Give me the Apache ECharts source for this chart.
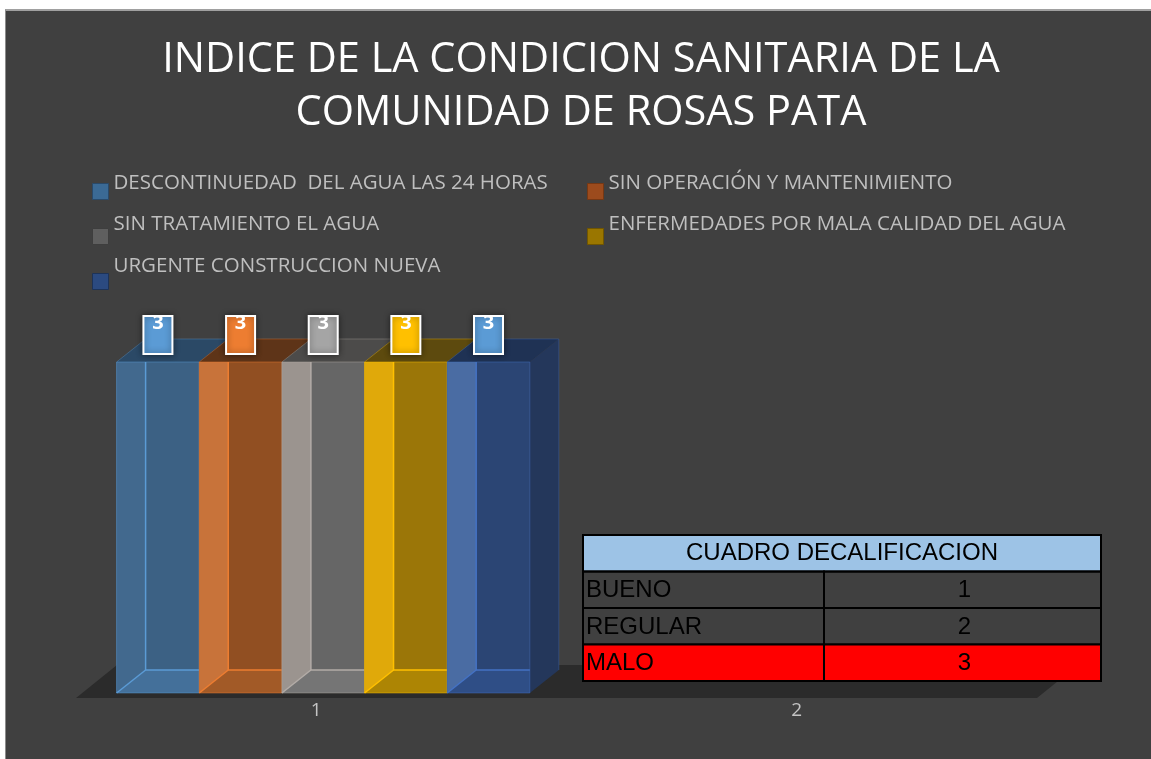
<!DOCTYPE html>
<html>
<head>
<meta charset="utf-8">
<script src="https://cdn.jsdelivr.net/npm/echarts@6/dist/echarts.min.js"></script>
<style>
    html, body { margin: 0; padding: 0; background: #ffffff; }
    /* marco oscuro del gráfico */
    #frame { position: absolute; left: 5px; top: 9px; width: 1146px; height: 750px; box-sizing: border-box;
             background: #404040; border-left: 1px solid #8c8c8c; border-top: 2px solid #a0a0a0; }
    #main { position: absolute; left: 0; top: 0; width: 1151px; height: 759px; }
</style>
</head>
<body>
<div id="frame"></div>
<div id="main"></div>
<script>
// categorías del eje x
const categorias = ['1', '2'];

// nombres de las series (leyenda)
const nombresSeries = [
    'DESCONTINUEDAD  DEL AGUA LAS 24 HORAS',
    'SIN OPERACIÓN Y MANTENIMIENTO',
    'SIN TRATAMIENTO EL AGUA',
    'ENFERMEDADES POR MALA CALIDAD DEL AGUA',
    'URGENTE CONSTRUCCION NUEVA'
];

// valores de cada serie (categoría 1, categoría 2)
const descontinuidad = [3, null];
const sinOperacion = [3, null];
const sinTratamiento = [3, null];
const enfermedades = [3, null];
const urgente = [3, null];

// cuadro de calificación
const tablaTitulo = 'CUADRO DECALIFICACION';
const tablaNiveles = ['BUENO', 'REGULAR', 'MALO'];
const tablaPuntos = [1, 2, 3];

const valoresSeries = [descontinuidad, sinOperacion, sinTratamiento, enfermedades, urgente];

// colores de cada caja 3D
const estilos = [
    { label: '#5b9bd5', edge: '#5b9bd5', front: '#3c6184', strip: '#42698e', bottom: '#44709a', top: '#2b4966', side: '#2a4664', legend: '#3b6a95', legendBorder: '#2a4a6a' },
    { label: '#ed7d31', edge: '#ed7d31', front: '#914f22', strip: '#c8733a', bottom: '#a25a27', top: '#5e3418', side: '#5e3418', legend: '#9c4b1d', legendBorder: '#763814' },
    { label: '#a5a5a5', edge: '#b3aca7', front: '#666666', strip: '#9b948f', bottom: '#757575', top: '#4c4b4a', side: '#4c4c4c', legend: '#5f5f5f', legendBorder: '#3e3e3e' },
    { label: '#ffc000', edge: '#ffc000', front: '#9b7608', strip: '#e0a90a', bottom: '#ad8504', top: '#5d4a0e', side: '#5d4a0e', legend: '#9a7600', legendBorder: '#715600' },
    { label: '#5b9bd5', edge: '#4472c4', front: '#2b4574', strip: '#4a6ca3', bottom: '#2f4e86', top: '#1f3254', side: '#24375b', legend: '#2b4a80', legendBorder: '#1d3358' }
];

// posición de cada leyenda (marker = borde superior del cuadro; sub = desplazamiento del texto hacia arriba)
const leyendas = [
    { left: 92, marker: 182, sub: 16 },
    { left: 587, marker: 182, sub: 16 },
    { left: 92, marker: 227, sub: 25 },
    { left: 587, marker: 227, sub: 25 },
    { left: 92, marker: 272, sub: 31 }
];

const dx = 29, dy = 23; // profundidad de las cajas

// dibuja una caja 3D para la serie k
function cajaRender(k) {
    const c = estilos[k];
    return function (params, api) {
        const cat = api.value(0);
        const base = api.coord([cat, 0]);
        const tope = api.coord([cat, api.value(1)]);
        const band = api.size([1, 0])[0];
        const w = band * 0.172;
        const xL = base[0] - band * 0.4155 + k * w;
        const xR = xL + w;
        const yB = base[1], yT = tope[1];
        const cx = (xL + xR) / 2;
        return {
            type: 'group',
            children: [
                { type: 'polygon', shape: { points: [[xL, yT], [xR, yT], [xR + dx, yT - dy], [xL + dx, yT - dy]] }, style: { fill: c.top } },
                { type: 'polygon', shape: { points: [[xR, yT], [xR + dx, yT - dy], [xR + dx, yB - dy], [xR, yB]] }, style: { fill: c.side } },
                { type: 'rect', shape: { x: xL, y: yT, width: w, height: yB - yT }, style: { fill: c.front } },
                { type: 'rect', shape: { x: xL, y: yT, width: dx, height: yB - yT }, style: { fill: c.strip } },
                { type: 'polygon', shape: { points: [[xL, yB], [xL + dx, yB - dy], [xR, yB - dy], [xR, yB]] }, style: { fill: c.bottom } },
                { type: 'polyline', shape: { points: [[xL + dx, yT], [xL + dx, yB - dy], [xR, yB - dy]] }, style: { stroke: c.edge, lineWidth: 1.5, fill: null } },
                { type: 'line', shape: { x1: xL, y1: yB, x2: xL + dx, y2: yB - dy }, style: { stroke: c.edge, lineWidth: 1.5 } },
                { type: 'polyline', shape: { points: [[xL, yT], [xL + dx, yT - dy], [xR + dx, yT - dy], [xR + dx, yB - dy]] }, style: { stroke: c.edge, opacity: 0.35, lineWidth: 1, fill: null } },
                { type: 'rect', shape: { x: xL, y: yT, width: w, height: yB - yT }, style: { fill: null, stroke: c.edge, opacity: 0.45, lineWidth: 1 } },
                // etiqueta del valor
                { type: 'rect', shape: { x: cx - 14.5, y: yT - 46, width: 29, height: 38 },
                  style: { fill: c.label, stroke: '#ffffff', lineWidth: 2, shadowBlur: 6, shadowColor: 'rgba(0,0,0,0.45)' } },
                { type: 'text', x: cx, y: yT - 39,
                  style: { text: String(api.value(1)), fill: '#ffffff', font: 'bold 20px "Open Sans"', align: 'center', verticalAlign: 'middle' } }
            ]
        };
    };
}

// piso del gráfico
function pisoRender(params, api) {
    const base = api.coord([0, 0]);
    const band = api.size([1, 0])[0];
    const x0 = base[0] - band / 2;
    const x1 = x0 + band * categorias.length;
    const y = base[1] + 5;
    return {
        type: 'polygon',
        shape: { points: [[x0, y], [x1, y], [x1 + 41, y - 33], [x0 + 41, y - 33]] },
        style: { fill: '#2b2b2b' }
    };
}

// cuadro de calificación como elementos graphic
const maxValor = Math.max(...descontinuidad.filter(v => v != null));
const tX = 583, tY = 535, tW = 518, colX = 824, rowH = 36.5;
const tabla = [
    { type: 'rect', z: 100, shape: { x: tX, y: tY, width: tW, height: rowH }, style: { fill: '#9dc3e6', stroke: '#000', lineWidth: 2 } },
    { type: 'text', z: 101, x: tX + tW / 2, y: tY + rowH / 2,
      style: { text: tablaTitulo, fill: '#000', font: '24px "Liberation Sans"', align: 'center', verticalAlign: 'middle' } }
];
tablaNiveles.forEach((nivel, i) => {
    const y = tY + rowH * (i + 1);
    const fill = tablaPuntos[i] === maxValor ? '#ff0000' : 'rgba(0,0,0,0)';
    tabla.push(
        { type: 'rect', z: 100, shape: { x: tX, y: y, width: colX - tX, height: rowH }, style: { fill: fill, stroke: '#000', lineWidth: 2 } },
        { type: 'rect', z: 100, shape: { x: colX, y: y, width: tX + tW - colX, height: rowH }, style: { fill: fill, stroke: '#000', lineWidth: 2 } },
        { type: 'text', z: 101, x: tX + 3, y: y + rowH / 2 + 1,
          style: { text: nivel, fill: '#000', font: '24px "Liberation Sans"', align: 'left', verticalAlign: 'middle' } },
        { type: 'text', z: 101, x: (colX + tX + tW) / 2 + 2, y: y + rowH / 2 + 1,
          style: { text: String(tablaPuntos[i]), fill: '#000', font: '24px "Liberation Sans"', align: 'center', verticalAlign: 'middle' } }
    );
});

const chart = echarts.init(document.getElementById('main'));

const series = [{
    name: 'piso',
    type: 'custom',
    silent: true,
    z: 1,
    renderItem: pisoRender,
    data: [[0, 0]]
}];
nombresSeries.forEach((nombre, k) => {
    series.push({
        name: nombre,
        type: 'custom',
        z: 2 + k,
        renderItem: cajaRender(k),
        itemStyle: { color: estilos[k].legend },
        data: valoresSeries[k].map((v, i) => [i, v]).filter(d => d[1] != null)
    });
});

const option = {
    backgroundColor: 'transparent',
    animation: false,
    title: {
        text: 'INDICE DE LA CONDICION SANITARIA DE LA\nCOMUNIDAD DE ROSAS PATA',
        left: 581,
        top: 34,
        padding: 0,
        textAlign: 'center',
        textStyle: { color: '#ffffff', fontSize: 41.5, fontWeight: 'normal', fontFamily: 'Open Sans', lineHeight: 53 }
    },
    // una leyenda por serie; la segunda línea vacía sube el texto sobre el cuadro de color
    legend: nombresSeries.map((nombre, k) => ({
        left: leyendas[k].left,
        top: leyendas[k].marker - (19 + leyendas[k].sub) / 2 + 8,
        padding: 0,
        itemWidth: 16,
        itemHeight: 16,
        itemGap: 5,
        selectedMode: false,
        icon: 'rect',
        data: [{ name: nombre, itemStyle: { color: estilos[k].legend, borderColor: estilos[k].legendBorder, borderWidth: 1 } }],
        formatter: function (n) { return n + '\n{s|}'; },
        textStyle: {
            color: '#bfbfbf', fontSize: 20.5, fontFamily: 'Open Sans', lineHeight: 22,
            rich: { s: { height: leyendas[k].sub, lineHeight: leyendas[k].sub, fontSize: 1 } }
        }
    })),
    grid: { left: 76, right: 114, top: 306.8, bottom: 66 },
    xAxis: {
        type: 'category',
        data: categorias,
        axisLine: { show: false },
        axisTick: { show: false },
        splitLine: { show: false },
        axisLabel: { color: '#c4c4c4', fontSize: 19, fontFamily: 'Open Sans', margin: 8 }
    },
    yAxis: { type: 'value', min: 0, max: 3.5, show: false },
    graphic: tabla,
    series: series
};

chart.setOption(option);
</script>
</body>
</html>
